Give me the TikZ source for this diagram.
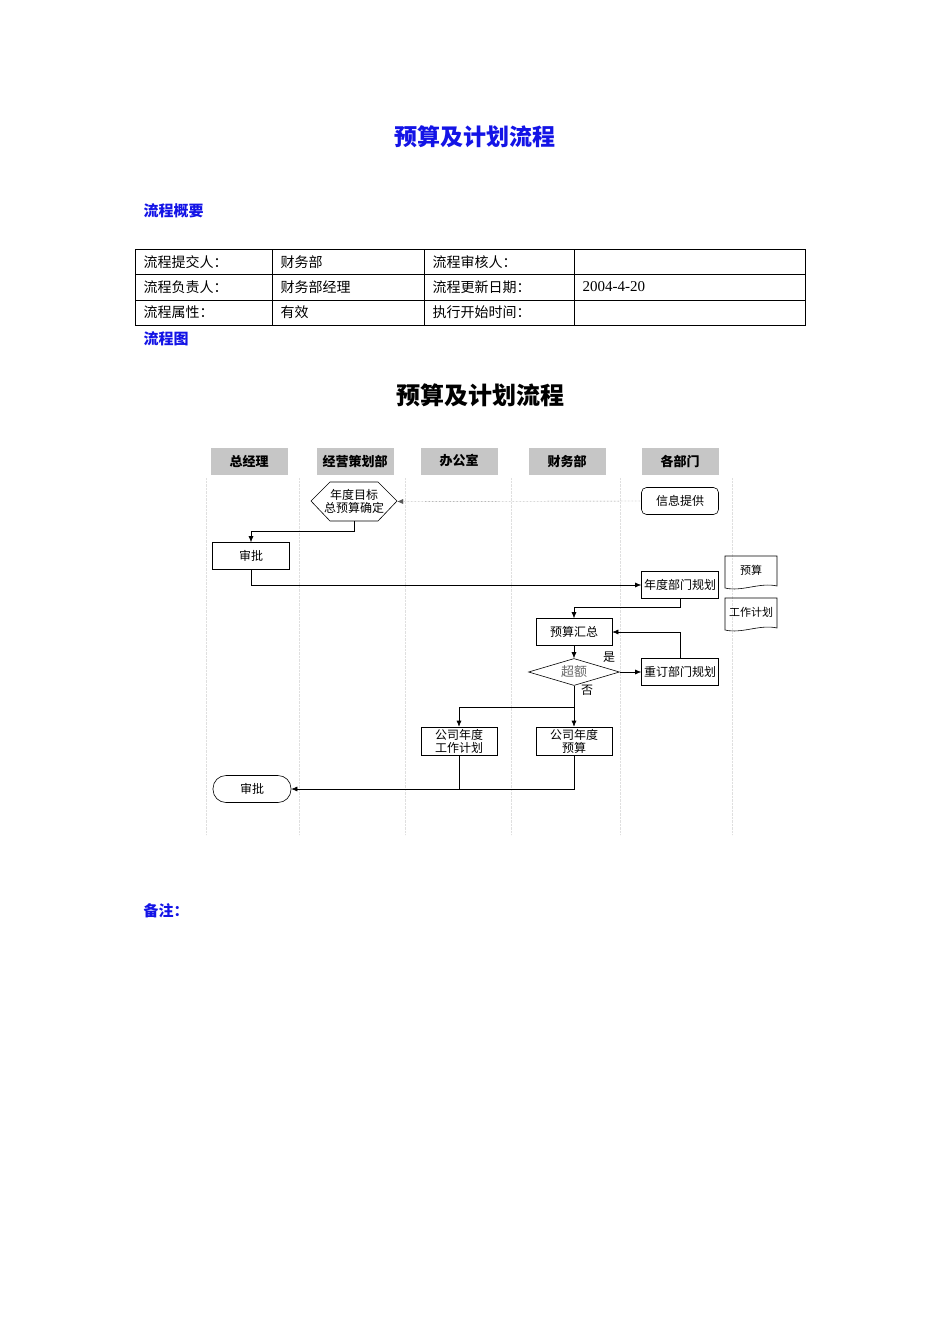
\documentclass[tikz,border=0pt]{standalone}
\usepackage{fontspec}
\setmainfont{Liberation Serif}
\newfontfamily\cjk{Noto Sans CJK SC}
\usetikzlibrary{shapes.geometric,arrows.meta}
\definecolor{tblue}{RGB}{20,20,230}
\tikzset{
 box/.style={draw,semithick,minimum width=77pt,minimum height=27pt,inner sep=0pt,font=\cjk\fontsize{12}{13}\selectfont,align=center},
 hdr/.style={fill=gray!45,minimum width=77pt,minimum height=27pt,inner sep=0pt,font=\cjk\bfseries\fontsize{13}{13}\selectfont},
 lane/.style={gray!25,densely dotted},
 arr/.style={-{Latex[length=6pt,width=5pt]},semithick},
 ln/.style={semithick},
 tt/.style={font=\cjk\fontsize{14}{14}\selectfont,anchor=west},
 bl/.style={font=\cjk\bfseries\fontsize{15}{15}\selectfont,text=tblue,anchor=west}
}
\begin{document}
\begin{tikzpicture}[x=1pt,y=-1pt]
\useasboundingbox (0,0) rectangle (950,1344);
\node[font=\cjk\bfseries\fontsize{23}{23}\selectfont,text=tblue] (t1) at (475,137) {预算及计划流程};
\node[bl] (gy) at (140,211) {流程概要};
\node[bl] (lct) at (140,339) {流程图};
\node[bl] (bz) at (140,911) {备注：};
% table
\draw[thin] (135,249) rectangle (805,325);
\foreach \y in {274,300} \draw[thin] (135,\y) -- (805,\y);
\foreach \x in {272,424,574} \draw[thin] (\x,249) -- (\x,325);
\node[tt] (a1) at (140,262) {流程提交人：};
\node[tt] (a2) at (277,262) {财务部};
\node[tt] (a3) at (429,262) {流程审核人：};
\node[tt] (b1) at (140,287) {流程负责人：};
\node[tt] (b2) at (277,287) {财务部经理};
\node[tt] (b3) at (429,287) {流程更新日期：};
\node[anchor=west,font=\fontsize{15}{15}\selectfont] (b4) at (579,287) {2004-4-20};
\node[tt] (c1) at (140,312) {流程属性：};
\node[tt] (c2) at (277,312) {有效};
\node[tt] (c3) at (429,312) {执行开始时间：};
% chart
\node[font=\cjk\bfseries\fontsize{24}{24}\selectfont] (t2) at (480,395) {预算及计划流程};
\foreach \x in {206,299,405,511,620,732} \draw[lane] (\x,478) -- (\x,835);
\node[hdr] (h1) at (249,461) {总经理};
\node[hdr] (h2) at (355,461) {经营策划部};
\node[hdr] (h3) at (459,461) {办公室};
\node[hdr] (h4) at (567,461) {财务部};
\node[hdr] (h5) at (680,461) {各部门};
\draw[semithick] (311,501) -- (330,482) -- (378,482) -- (397,501) -- (378,521) -- (330,521) -- cycle;
\node[inner sep=0pt,minimum width=86pt,minimum height=39pt,font=\cjk\fontsize{12}{12.5}\selectfont,align=center] (hex) at (354,501.5) {年度目标\\总预算确定};
\node[box,rounded corners=5pt] (xx) at (680,501) {信息提供};
\node[box] (sp1) at (251,556) {审批};
\node[box] (ndg) at (680,585) {年度部门规划};
\node[box,minimum width=76pt] (yshz) at (574,632) {预算汇总};
\node[draw,semithick,diamond,aspect=3.4,minimum width=91pt,minimum height=27pt,inner sep=0pt,font=\cjk\fontsize{13}{13}\selectfont,text=gray!80!black] (ce) at (574,672) {超额};
\node[box] (cd) at (680,672) {重订部门规划};
\node[box,minimum width=76pt,minimum height=28pt] (gzjh) at (459,741) {公司年度\\工作计划};
\node[box,minimum width=76pt,minimum height=28pt] (gsys) at (574,741) {公司年度\\预算};
\node[box,rounded corners=13pt,minimum width=78pt] (sp2) at (252,789) {审批};
% documents
\draw[semithick] (725,556) -- (777,556) -- (777,586) .. controls (760,582) and (742,592) .. (725,588) -- cycle;
\node[font=\cjk\fontsize{11}{11}\selectfont] (d1) at (751,570) {预算};
\draw[semithick] (725,598) -- (777,598) -- (777,628) .. controls (760,624) and (742,634) .. (725,630) -- cycle;
\node[font=\cjk\fontsize{11}{11}\selectfont] (d2) at (751,612) {工作计划};
% connectors
\draw[-{Latex[length=6pt,width=5pt]},densely dotted,gray!70!black] (xx.west) -- (hex.east);
\draw[arr] (hex.south) -- (354,531) -- (251,531) -- (sp1.north);
\draw[arr] (sp1.south) |- (ndg.west);
\draw[arr] (ndg.south) -- (680,607) -- (574,607) -- (yshz.north);
\draw[arr] (cd.north) |- (yshz.east);
\draw[arr] (yshz.south) -- (ce.north);
\draw[arr] (ce.east) -- (cd.west);
\node[font=\cjk\fontsize{12}{12}\selectfont] (yes) at (609,657) {是};
\node[font=\cjk\fontsize{12}{12}\selectfont] (no) at (587,690) {否};
\draw[arr] (ce.south) -- (gsys.north);
\draw[arr] (574,707) -- (459,707) -- (gzjh.north);
\draw[ln] (gzjh.south) -- (459,789);
\draw[arr] (gsys.south) |- (sp2.east);
\end{tikzpicture}
\end{document}
